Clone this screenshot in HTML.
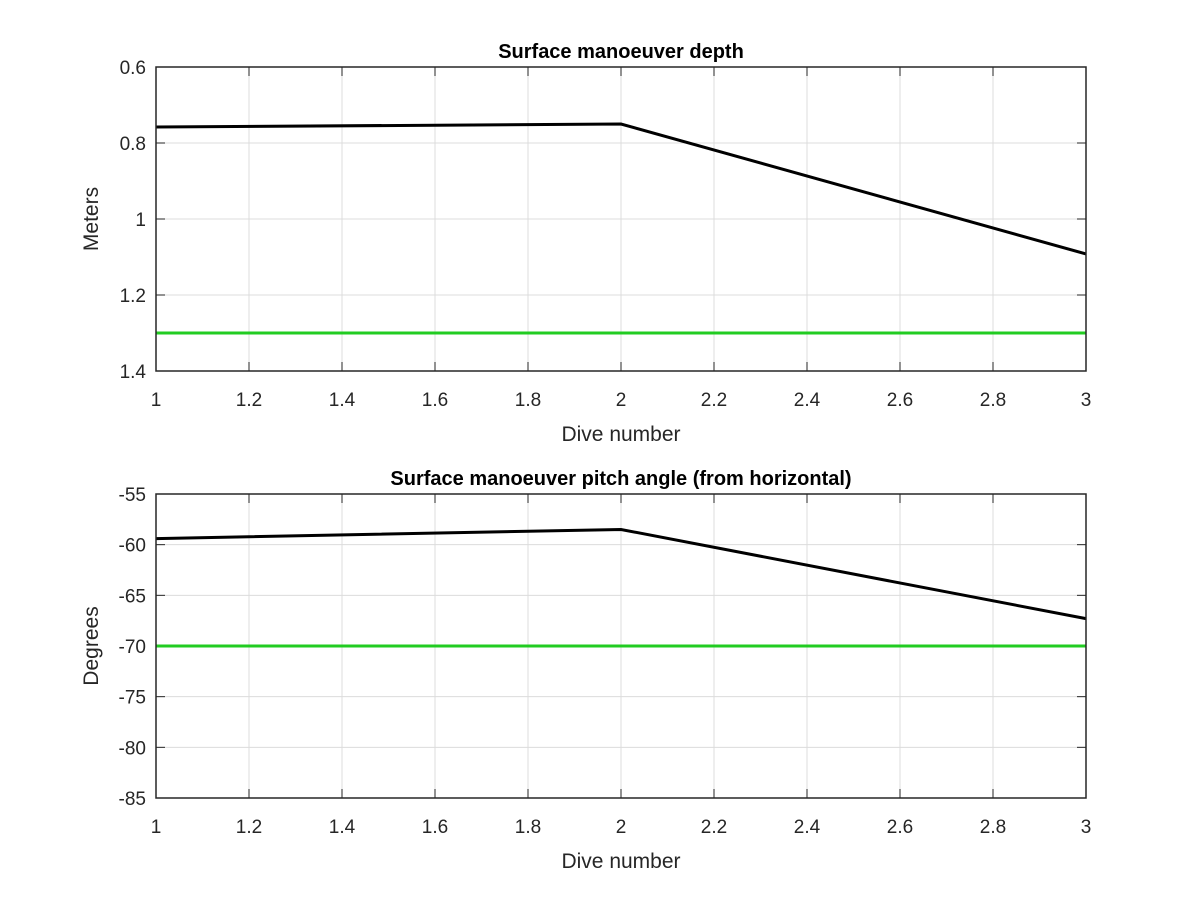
<!DOCTYPE html>
<html><head><meta charset="utf-8"><style>
body{margin:0;background:#fff;}
svg text{font-family:"Liberation Sans",sans-serif;fill:#262626;}
</style></head><body>
<svg width="1200" height="900">
<g id="p1"></g>
<g id="p2"></g>
</svg>
<script>
const xTicks=[1,1.2,1.4,1.6,1.8,2,2.2,2.4,2.6,2.8,3];
const xLabels=["1","1.2","1.4","1.6","1.8","2","2.2","2.4","2.6","2.8","3"];
const diveNumbers=[1,2,3];
const depthValues=[0.758,0.75,1.092];
const depthLimit=[1.3,1.3,1.3];
const depthTicks=[0.6,0.8,1,1.2,1.4];
const depthLabels=["0.6","0.8","1","1.2","1.4"];
const pitchValues=[-59.4,-58.5,-67.3];
const pitchLimit=[-70,-70,-70];
const pitchTicks=[-55,-60,-65,-70,-75,-80,-85];
const pitchLabels=["-55","-60","-65","-70","-75","-80","-85"];
const NS="http://www.w3.org/2000/svg";
function mk(p,t,a,txt){const e=document.createElementNS(NS,t);for(const k in a)e.setAttribute(k,a[k]);if(txt!==undefined)e.textContent=txt;p.appendChild(e);return e;}
function plot(g,o){
 const L=156,R=1086,T=o.top,B=o.bottom;
 const sx=v=>L+(v-1)/2*(R-L);
 const sy=v=>T+(v-o.ymin)/(o.ymax-o.ymin)*(B-T);
 xTicks.forEach((t,i)=>{const x=sx(t);
  const l=mk(g,'line',{x1:x,x2:x,y1:T,y2:B,stroke:'#dcdcdc','stroke-width':1});
  
  mk(g,'line',{x1:x,x2:x,y1:B,y2:B-9,stroke:'#262626'});mk(g,'line',{x1:x,x2:x,y1:T,y2:T+9,stroke:'#262626'});
  const tx=mk(g,'text',{x:x,y:B+35,'text-anchor':'middle','font-size':19},xLabels[i]);
  });
 o.ticks.forEach((t,i)=>{const y=sy(t);
  const l=mk(g,'line',{x1:L,x2:R,y1:y,y2:y,stroke:'#dcdcdc','stroke-width':1});
  
  mk(g,'line',{x1:L,x2:L+9,y1:y,y2:y,stroke:'#262626'});mk(g,'line',{x1:R,x2:R-9,y1:y,y2:y,stroke:'#262626'});
  const tx=mk(g,'text',{x:L-10,y:y+7,'text-anchor':'end','font-size':19},o.labels[i]);
  });
 const lim=mk(g,'polyline',{points:diveNumbers.map((d,i)=>sx(d)+','+sy(o.limit[i])).join(' '),fill:'none',stroke:'#22cc22','stroke-width':3});
 
 const ln=mk(g,'polyline',{points:diveNumbers.map((d,i)=>sx(d)+','+sy(o.vals[i])).join(' '),fill:'none',stroke:'#000','stroke-width':3});
 
 const bx=mk(g,'rect',{x:L,y:T,width:R-L,height:B-T,fill:'none',stroke:'#262626','stroke-width':1.5});
 
 const ti=mk(g,'text',{x:(L+R)/2,y:T-9,'text-anchor':'middle','font-size':20,'font-weight':'bold',style:'fill:#000'},o.title);
 
 const xl=mk(g,'text',{x:(L+R)/2,y:B+70,'text-anchor':'middle','font-size':21},'Dive number');
 
 const yl=mk(g,'text',{x:0,y:0,'text-anchor':'middle','font-size':21,transform:`translate(98,${(T+B)/2}) rotate(-90)`},o.ylabel);
 
}
plot(document.getElementById('p1'),{top:67,bottom:371,ymin:0.6,ymax:1.4,ticks:depthTicks,labels:depthLabels,vals:depthValues,limit:depthLimit,title:'Surface manoeuver depth',ylabel:'Meters'});
plot(document.getElementById('p2'),{top:494,bottom:798,ymin:-55,ymax:-85,ticks:pitchTicks,labels:pitchLabels,vals:pitchValues,limit:pitchLimit,title:'Surface manoeuver pitch angle (from horizontal)',ylabel:'Degrees'});
</script>
</body></html>
